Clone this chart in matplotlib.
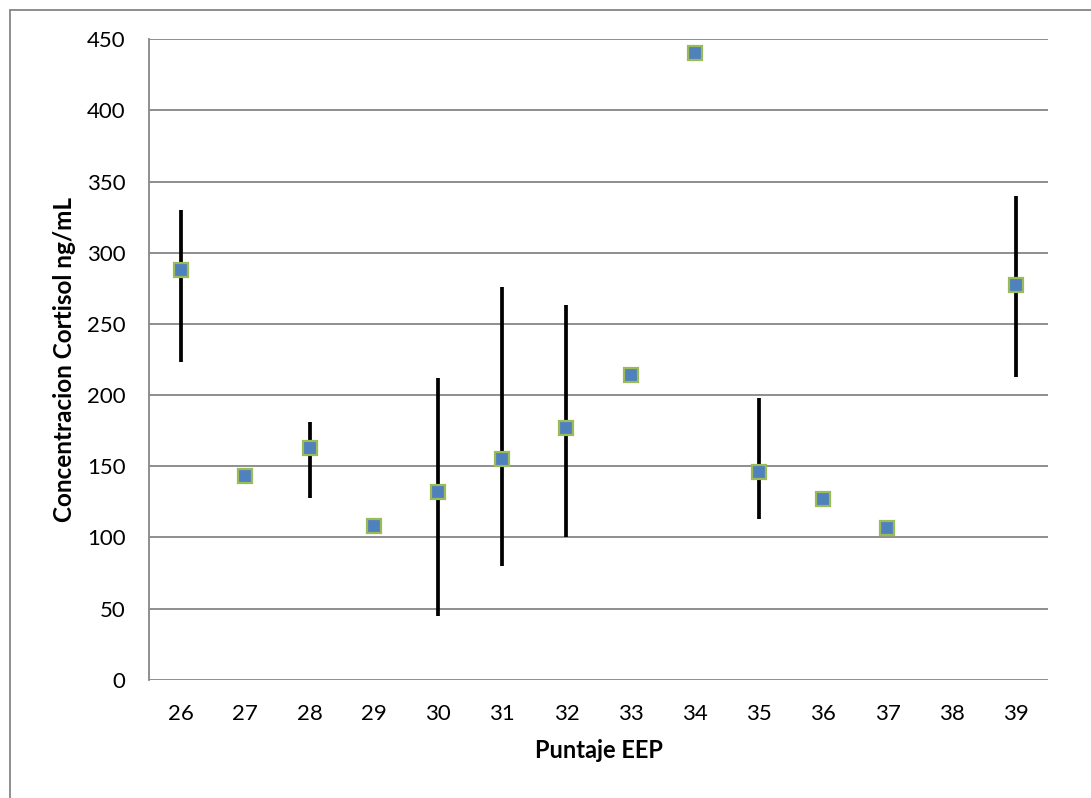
import matplotlib.pyplot as plt
from matplotlib.patches import Rectangle

plt.rcParams['font.family'] = ['Lato', 'DejaVu Sans']

puntaje = ['26', '27', '28', '29', '30', '31', '32', '33', '34', '35', '36', '37', '38', '39']
cortisol = [288, 143, 163, 108, 132, 155, 177, 214, 440, 146, 127, 107, None, 277]
err_low = [223, None, 128, None, 45, 80, 100, None, None, 113, None, None, None, 213]
err_high = [330, None, 181, None, 212, 276, 263, None, None, 198, None, None, None, 340]

fig = plt.figure(figsize=(10.91, 7.98), dpi=100)
ax = fig.add_axes([0.1366, 0.148, 0.824, 0.803])

# vertical bars (min-max)
for i, (lo, hi) in enumerate(zip(err_low, err_high)):
    if lo is not None:
        ax.plot([i, i], [lo, hi], color='black', lw=2.7, solid_capstyle='butt', zorder=2)

xs = [i for i, v in enumerate(cortisol) if v is not None]
ys = [v for v in cortisol if v is not None]
ax.plot(xs, ys, ls='none', marker='s', ms=10, mfc='#4F81BD', mec='#9BBB59', mew=1.6, zorder=3)

ax.set_xlim(-0.5, len(puntaje) - 0.5)
ax.set_ylim(0, 450)
ax.set_yticks(range(0, 451, 50))
ax.set_xticks(range(len(puntaje)))
ax.set_xticklabels(puntaje)
ax.yaxis.grid(True, color='#868686', lw=1.3)
ax.set_axisbelow(True)
ax.tick_params(length=0, labelsize=16)
ax.tick_params(axis='y', pad=17)
ax.tick_params(axis='x', pad=17)
for s in ['top', 'right', 'bottom']:
    ax.spines[s].set_visible(False)
ax.spines['left'].set_color('#868686')
ax.spines['left'].set_linewidth(1.3)

ax.set_xlabel('Puntaje EEP', fontsize=17, fontweight='bold', labelpad=11)
ax.set_ylabel('Concentracion Cortisol ng/mL', fontsize=17.5, fontweight='bold', labelpad=8)

# outer chart border
fig.patches.append(Rectangle((10 / 1091, -0.1), 1.2, 1 - 10 / 798 + 0.1, transform=fig.transFigure,
                             fill=False, edgecolor='#868686', lw=1.3))

fig.savefig('out.png', dpi=100)
